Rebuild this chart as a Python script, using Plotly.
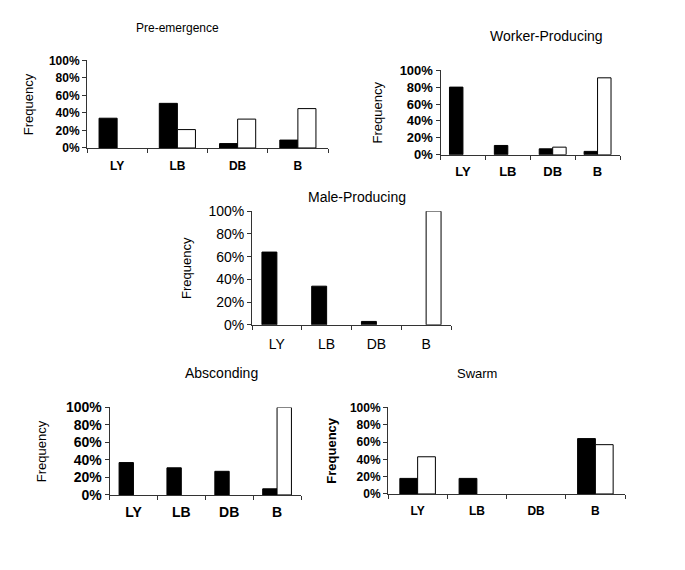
import plotly.graph_objects as go

W, H = 685, 570

categories = ["LY", "LB", "DB", "B"]

pre_black = [34, 51, 5, 9]
pre_white = [0, 21, 33, 45]

worker_black = [80, 11, 7, 4]
worker_white = [0, 0, 9, 91]

male_black = [64, 34, 3, 0]
male_white = [0, 0, 0, 100]

absc_black = [37, 31, 27, 7]
absc_white = [0, 0, 0, 100]

swarm_black = [18, 18, 0, 64]
swarm_white = [43, 0, 0, 57]

y_ticks = [0, 20, 40, 60, 80, 100]
y_tick_labels = ["0%", "20%", "40%", "60%", "80%", "100%"]

panels = [
    dict(title="Pre-emergence", black=pre_black, white=pre_white,
         x0=87, x1=328, ytop=54, ybot=144, tsize=12, bold=True,
         tx=177, ty=21, tfs=12, fx=28, ffs=13, fbold=False, xstand=7),
    dict(title="Worker-Producing", black=worker_black, white=worker_white,
         x0=440.5, x1=620, ytop=64, ybot=151, tsize=13, bold=True,
         tx=546, ty=29, tfs=14, fx=377, ffs=13, fbold=False, xstand=5),
    dict(title="Male-Producing", black=male_black, white=male_white,
         x0=252, x1=451, ytop=209, ybot=326, tsize=14, bold=False,
         tx=357, ty=194, tfs=14, fx=187, ffs=13, fbold=False, xstand=6),
    dict(title="Absconding", black=absc_black, white=absc_white,
         x0=109.5, x1=301, ytop=411, ybot=501, tsize=14, bold=True,
         tx=221, ty=376, tfs=14, fx=41, ffs=13, fbold=False, xstand=4),
    dict(title="Swarm", black=swarm_black, white=swarm_white,
         x0=388, x1=625, ytop=411, ybot=500, tsize=12, bold=True,
         tx=477, ty=376, tfs=13, fx=332, ffs=13, fbold=True, xstand=6),
]

FONT = "Liberation Sans, Arial, sans-serif"
AXC = "#333333"

fig = go.Figure()
layout = {}
annotations = []


def outline(vals):
    return [0 if v == 0 else 1 for v in vals]


for i, p in enumerate(panels, start=1):
    xa = "x" if i == 1 else f"x{i}"
    ya = "y" if i == 1 else f"y{i}"
    weight = "bold" if p["bold"] else "normal"
    fig.add_trace(go.Bar(x=categories, y=p["black"], xaxis=xa, yaxis=ya,
                         name="Series 1", showlegend=False,
                         marker=dict(color="black",
                                     line=dict(color="black", width=outline(p["black"])))))
    fig.add_trace(go.Bar(x=categories, y=p["white"], xaxis=xa, yaxis=ya,
                         name="Series 2", showlegend=False,
                         marker=dict(color="white",
                                     line=dict(color="black", width=outline(p["white"])))))
    xkey = "xaxis" if i == 1 else f"xaxis{i}"
    ykey = "yaxis" if i == 1 else f"yaxis{i}"
    layout[xkey] = dict(
        domain=[p["x0"] / W, p["x1"] / W],
        anchor=ya, type="category", range=[-0.5, 3.5],
        showline=True, linecolor=AXC, linewidth=1,
        ticks="outside", tickson="boundaries", ticklen=4, tickcolor=AXC,
        showgrid=False, zeroline=False,
        ticklabelstandoff=p["xstand"],
        tickfont=dict(family=FONT, size=p["tsize"], color="black", weight=weight),
        fixedrange=True,
    )
    layout[ykey] = dict(
        domain=[1 - p["ybot"] / H, 1 - p["ytop"] / H],
        anchor=xa, range=[0, 100],
        tickmode="array", tickvals=y_ticks, ticktext=y_tick_labels,
        showline=True, linecolor=AXC, linewidth=1,
        ticks="outside", ticklen=4, tickcolor=AXC,
        showgrid=False, zeroline=False,
        tickfont=dict(family=FONT, size=p["tsize"], color="black", weight=weight),
        fixedrange=True,
    )
    annotations.append(dict(
        text=p["title"], x=p["tx"] / W, y=1 - p["ty"] / H, xref="paper", yref="paper",
        xanchor="center", yanchor="middle", showarrow=False,
        font=dict(family=FONT, size=p["tfs"], color="black")))
    annotations.append(dict(
        text="Frequency", x=p["fx"] / W, y=1 - (p["ytop"] + p["ybot"]) / 2 / H,
        xref="paper", yref="paper", textangle=-90,
        xanchor="center", yanchor="middle", showarrow=False,
        font=dict(family=FONT, size=p["ffs"], color="black",
                  weight="bold" if p["fbold"] else "normal")))

fig.update_layout(
    width=W, height=H,
    margin=dict(l=0, r=0, t=0, b=0),
    paper_bgcolor="white", plot_bgcolor="white",
    barmode="group", bargap=0.4, bargroupgap=0,
    annotations=annotations,
    showlegend=False,
    **layout,
)

fig.write_html("out.html", config={"displayModeBar": False},
               post_script="document.body.style.margin='0';document.body.style.overflow='hidden';")
